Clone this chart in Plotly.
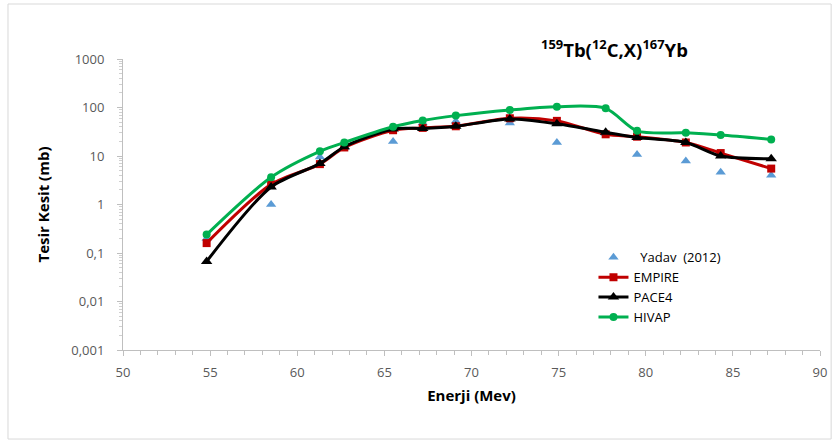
import plotly.graph_objects as go

energy = [54.8, 58.5, 61.3, 62.7, 65.5, 67.2, 69.1, 72.2, 74.9, 77.7, 79.5, 82.3, 84.3, 87.2]
yadav = [0.2, 1.0, 9.5, 15, 20, 48, 52, 48, 19, 29, 10.8, 7.9, 4.6, 4.0]
empire = [0.16, 2.6, 6.8, 15, 34, 38, 41, 60, 53, 28, 25, 19, 11.5, 5.5]
pace4 = [0.067, 2.3, 7.0, 15.5, 36, 37, 41, 58, 46, 31, 24, 19, 10, 8.8]
hivap = [0.24, 3.65, 12.5, 19, 40, 54, 68, 89, 104, 96, 33, 30, 27, 22]

y_tickvals = [0.001, 0.01, 0.1, 1, 10, 100, 1000]
y_ticktext = ["0,001", "0,01", "0,1", "1", "10", "100", "1000"]
x_tickvals = [50, 55, 60, 65, 70, 75, 80, 85, 90]

fig = go.Figure()
fig.add_trace(go.Scatter(x=energy, y=yadav, mode="markers", name="  Yadav  (2012)",
                         marker=dict(symbol="triangle-up", size=9, color="#5B9BD5")))
fig.add_trace(go.Scatter(x=energy, y=empire, mode="lines+markers", name="EMPIRE",
                         line=dict(color="#C00000", width=3, shape="spline", smoothing=0.8),
                         marker=dict(symbol="square", size=8, color="#C00000")))
fig.add_trace(go.Scatter(x=energy, y=pace4, mode="lines+markers", name="PACE4",
                         line=dict(color="#000000", width=3, shape="spline", smoothing=0.8),
                         marker=dict(symbol="triangle-up", size=10, color="#000000")))
fig.add_trace(go.Scatter(x=energy, y=hivap, mode="lines+markers", name="HIVAP",
                         line=dict(color="#00B050", width=3, shape="spline", smoothing=0.8),
                         marker=dict(symbol="circle", size=8, color="#00B050")))

axis_font = dict(family="Open Sans, Lato, sans-serif", size=13, color="#595959")
fig.update_layout(
    width=833, height=441,
    margin=dict(l=123, r=13, t=59, b=91, autoexpand=False),
    paper_bgcolor="white", plot_bgcolor="white",
    font=dict(family="Open Sans, Lato, sans-serif"),
    xaxis=dict(range=[50, 90], tickvals=x_tickvals, showgrid=False, zeroline=False,
               showline=True, linecolor="#BFBFBF", linewidth=1, automargin=False,
               ticks="outside", ticklen=5, tickcolor="#BFBFBF", tickfont=axis_font,
               ticklabelstandoff=5,
               minor=dict(dtick=1, ticks="outside", ticklen=4, tickcolor="#BFBFBF"),
               title=dict(text="<b>Enerji (Mev)</b>", font=dict(size=15, color="#000000"), standoff=10)),
    yaxis=dict(type="log", range=[-3, 3], tickvals=y_tickvals, ticktext=y_ticktext,
               showgrid=False, zeroline=False, showline=True, linecolor="#BFBFBF", linewidth=1,
               automargin=False,
               ticks="outside", ticklen=5, tickcolor="#BFBFBF", tickfont=axis_font,
               ticklabelstandoff=10,
               minor=dict(ticks="outside", ticklen=3, tickcolor="#D0D0D0", dtick="D1"),
               title=dict(text="<b>Tesir Kesit (mb)</b>", font=dict(size=15, color="#000000"), standoff=18)),
    legend=dict(x=0.675, y=0.37, xanchor="left", yanchor="top", bgcolor="rgba(0,0,0,0)",
                font=dict(size=13, color="#000000"), tracegroupgap=0, itemwidth=30),
    showlegend=True,
)
fig.add_annotation(text="<b><sup>159</sup>Tb(<sup>12</sup>C,X)<sup>167</sup>Yb</b>",
                   xref="paper", yref="paper", x=0.705, y=1.035, xanchor="center", yanchor="middle",
                   showarrow=False, font=dict(size=18.5, color="#000000"))
fig.add_shape(type="rect", xref="paper", yref="paper", x0=-0.165, x1=1.016, y0=-0.306, y1=1.189,
              line=dict(color="#D9D9D9", width=1), layer="below")

fig.write_html("out.html", config={"displayModeBar": False},
               post_script="document.body.style.margin='0';")
